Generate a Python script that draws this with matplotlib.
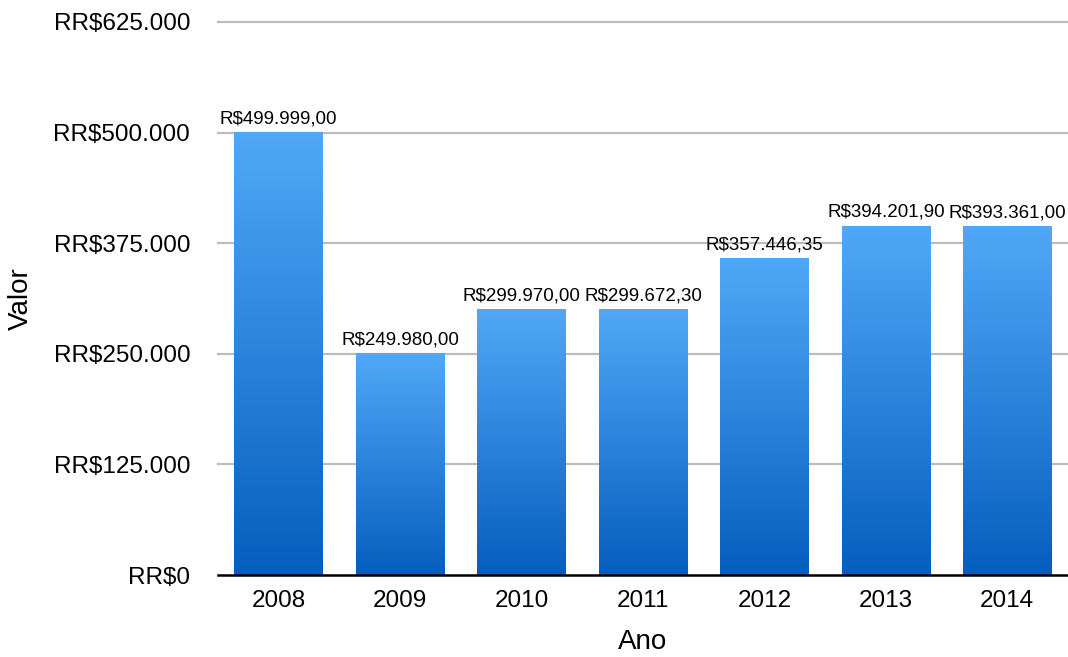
import numpy as np
import matplotlib
matplotlib.use("Agg")
import matplotlib.pyplot as plt

# dados do grafico
anos = ["2008", "2009", "2010", "2011", "2012", "2013", "2014"]
valores = [499999.00, 249980.00, 299970.00, 299672.30, 357446.35, 394201.90, 393361.00]
yticks = [0, 125000, 250000, 375000, 500000, 625000]
ytick_labels = ["RR$0", "RR$125.000", "RR$250.000", "RR$375.000", "RR$500.000", "RR$625.000"]


def brl(v):
    # formato brasileiro: 1.234,56
    s = f"{v:,.2f}"
    s = s.replace(",", "X").replace(".", ",").replace("X", ".")
    return "R$" + s


plt.rcParams['font.family'] = ['Liberation Sans', 'DejaVu Sans']

fig = plt.figure(figsize=(10.68, 6.57), dpi=100)
ax = fig.add_axes([218 / 1068, 1 - 575 / 657, 1 - 218 / 1068, (575 - 22) / 657])

x = np.arange(len(anos))
bars = ax.bar(x, valores, width=0.73, color="none", edgecolor="none", zorder=3)

# gradiente vertical em cada barra (claro em cima, escuro embaixo)
top_c = np.array([82, 168, 247]) / 255
bot_c = np.array([5, 94, 190]) / 255
t = np.linspace(0, 1, 256)[:, None]
grad = bot_c[None, :] * (1 - t) + top_c[None, :] * t
grad = grad[:, None, :]  # (256,1,3), linha 0 = base

for b, v in zip(bars, valores):
    x0 = b.get_x()
    x1 = x0 + b.get_width()
    ax.imshow(grad, extent=[x0, x1, 0, v], origin="lower", aspect="auto",
              interpolation="bilinear", zorder=3)
    ax.annotate(brl(v), (b.get_x() + b.get_width() / 2, v), xytext=(0, 4),
                textcoords="offset points", ha="center", va="bottom",
                fontsize=13.5, zorder=5)

ax.set_xlim(-0.5, len(anos) - 0.5)
ax.set_ylim(0, 625000)
ax.set_xticks(x)
ax.set_xticklabels(anos, fontsize=17.5)
ax.set_yticks(yticks)
ax.set_yticklabels(ytick_labels, fontsize=17.5)
ax.tick_params(axis="both", length=0)
ax.tick_params(axis="y", pad=20)
ax.tick_params(axis="x", pad=11)

for yv in yticks[1:]:
    ax.axhline(yv, color="#bdbdbd", lw=1.6, zorder=1, clip_on=False)
ax.axhline(0, color="black", lw=1.8, zorder=4, clip_on=False)

for s in ax.spines.values():
    s.set_visible(False)

ax.set_xlabel("Ano", fontsize=20, labelpad=12)
ax.set_ylabel("Valor", fontsize=20, labelpad=14)

fig.savefig("out.png", dpi=100)
